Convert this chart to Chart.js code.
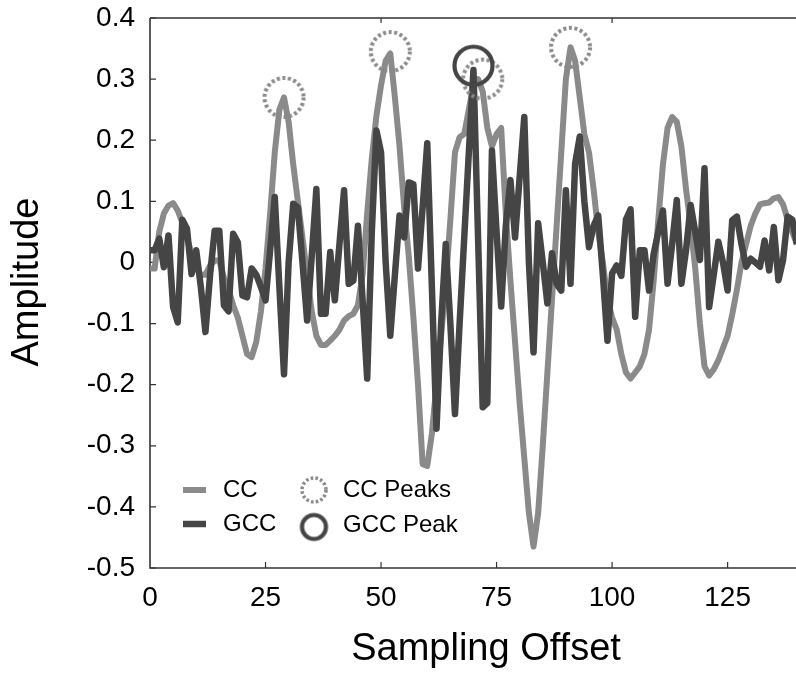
<!DOCTYPE html>
<html><head><meta charset="utf-8">
<script src="https://cdn.jsdelivr.net/npm/chart.js@4"></script>
<style>html,body{margin:0;padding:0;background:#fff}#wrap{width:796px;height:673px;position:relative}</style>
</head><body><div id="wrap"><canvas id="c" width="796" height="673"></canvas></div>
<script>
const offsets = [0,1,2,3,4,5,6,7,8,9,10,11,12,13,14,15,16,17,18,19,20,21,22,23,24,25,26,27,28,29,30,31,32,33,34,35,36,37,38,39,40,41,42,43,44,45,46,47,48,49,50,51,52,53,54,55,56,57,58,59,60,61,62,63,64,65,66,67,68,69,70,71,72,73,74,75,76,77,78,79,80,81,82,83,84,85,86,87,88,89,90,91,92,93,94,95,96,97,98,99,100,101,102,103,104,105,106,107,108,109,110,111,112,113,114,115,116,117,118,119,120,121,122,123,124,125,126,127,128,129,130,131,132,133,134,135,136,137,138,139,140];
const ccValues = [-0.01,-0.01,0.05,0.08,0.093,0.097,0.085,0.065,0.04,0.015,
 -0.01,-0.02,-0.02,-0.005,0.003,0.003,-0.025,-0.045,-0.07,-0.09,
 -0.12,-0.15,-0.155,-0.13,-0.08,-0.01,0.08,0.18,0.25,0.27,
 0.23,0.16,0.1,0.04,-0.02,-0.08,-0.12,-0.135,-0.135,-0.128,
 -0.12,-0.11,-0.095,-0.088,-0.084,-0.07,-0.02,0.08,0.17,0.24,
 0.29,0.33,0.342,0.27,0.19,0.09,0.01,-0.09,-0.2,-0.33,
 -0.333,-0.28,-0.2,-0.12,-0.035,0.07,0.18,0.205,0.21,0.25,
 0.29,0.3,0.28,0.22,0.19,0.21,0.22,0.08,-0.03,-0.13,
 -0.23,-0.32,-0.41,-0.465,-0.41,-0.3,-0.18,-0.06,0.06,0.18,
 0.3,0.352,0.33,0.27,0.21,0.18,0.12,0.05,0.0,-0.06,
 -0.09,-0.11,-0.15,-0.18,-0.19,-0.18,-0.17,-0.15,-0.11,-0.03,
 0.07,0.16,0.22,0.238,0.23,0.19,0.12,0.06,-0.01,-0.1,
 -0.17,-0.185,-0.175,-0.16,-0.14,-0.12,-0.085,-0.045,0.0,0.03,
 0.06,0.08,0.095,0.097,0.098,0.105,0.107,0.095,0.07,0.05,0.03];
const gccValues = [0.02,0.02,0.039,-0.008,0.044,-0.073,-0.098,0.07,0.055,-0.019,
 0.02,-0.04,-0.114,-0.02,0.052,0.052,-0.07,-0.08,0.047,0.033,
 -0.054,-0.057,-0.01,-0.02,-0.04,-0.062,0.02,0.107,-0.04,-0.183,
 0.0,0.096,0.09,0.0,-0.095,0.01,0.12,-0.084,-0.084,0.017,
 -0.062,0.03,0.118,-0.035,-0.03,0.06,-0.06,-0.19,0.05,0.216,
 0.18,0.0,-0.12,-0.02,0.077,0.041,0.131,0.128,-0.01,0.09,
 0.195,-0.04,-0.272,-0.1,0.03,-0.1,-0.248,-0.1,0.04,0.18,
 0.315,0.04,-0.237,-0.23,0.183,0.05,-0.072,0.06,0.135,0.041,
 0.14,0.238,0.0,-0.147,0.064,0.0,-0.067,0.015,-0.035,-0.046,
 0.118,-0.035,0.162,0.206,0.1,0.025,0.06,0.077,-0.02,-0.128,
 -0.018,-0.005,-0.022,0.07,0.087,-0.089,0.02,0.02,-0.046,0.014,
 0.05,0.085,-0.035,0.03,0.102,-0.035,0.02,0.094,0.05,0.004,
 0.154,-0.073,-0.02,0.034,0.0,-0.046,0.069,0.075,0.03,-0.007,
 0.006,0.0,-0.007,0.036,-0.013,0.058,-0.029,0.004,0.075,0.07,0.03];
const ccPeakOffsets = [29, 52, 72, 91];
const ccPeakValues = [0.27, 0.345, 0.30, 0.352];
const gccPeakOffsets = [70];
const gccPeakValues = [0.322];
const xTickValues = [0, 25, 50, 75, 100, 125];
const xTopTickValues = [50, 100];
const yTickValues = [-0.5, -0.4, -0.3, -0.2, -0.1, 0, 0.1, 0.2, 0.3, 0.4];
const yTickLabels = ['-0.5', '-0.4', '-0.3', '-0.2', '-0.1', '0', '0.1', '0.2', '0.3', '0.4'];
const legendLabels = ['CC', 'GCC', 'CC Peaks', 'GCC Peak'];
const xTitle = 'Sampling Offset';
const yTitle = 'Amplitude';

const FONT = "'Liberation Sans', Arial, sans-serif";
const TICK_SIZE = 28;
const TITLE_SIZE = 38;
const CC_COLOR = '#8a8a8a';
const GCC_COLOR = '#454545';

function makeCircle(r, lw, color, dash) {
  const s = Math.ceil(2 * r + lw + 4);
  const cv = document.createElement('canvas');
  cv.width = s; cv.height = s;
  const g = cv.getContext('2d');
  g.strokeStyle = color; g.lineWidth = lw;
  if (dash) g.setLineDash(dash);
  g.beginPath(); g.arc(s / 2, s / 2, r, 0, Math.PI * 2); g.stroke();
  return cv;
}
const ccPeakImg = makeCircle(19.5, 4, CC_COLOR, [3, 2.6]);
const gccPeakImg = makeCircle(19, 4.2, GCC_COLOR, null);
const ccLegendImg = makeCircle(12, 3.5, CC_COLOR, [2.6, 2.2]);
const gccLegendImg = makeCircle(12, 4.2, GCC_COLOR, null);

function zeroPad(s) { s.paddingTop = 0; s.paddingBottom = 0; s.paddingLeft = 0; s.paddingRight = 0; }

const framePlugin = {
  id: 'frame',
  beforeDatasetsDraw(chart) {
    const {ctx, chartArea: a, scales: {x, y}} = chart;
    ctx.save();
    ctx.strokeStyle = '#333';
    ctx.lineWidth = 1.6;
    ctx.beginPath();
    ctx.moveTo(a.left, a.top); ctx.lineTo(a.right + 5, a.top);
    ctx.moveTo(a.left, a.top); ctx.lineTo(a.left, a.bottom);
    ctx.lineTo(a.right + 5, a.bottom);
    ctx.stroke();
    ctx.lineWidth = 1.2;
    ctx.beginPath();
    yTickValues.forEach(v => {
      const py = y.getPixelForValue(v);
      ctx.moveTo(a.left, py); ctx.lineTo(a.left + 6, py);
    });
    xTickValues.forEach(v => {
      if (v === 0) return;
      const px = x.getPixelForValue(v);
      ctx.moveTo(px, a.bottom); ctx.lineTo(px, a.bottom - 6);
    });
    xTopTickValues.forEach(v => {
      const px = x.getPixelForValue(v);
      ctx.moveTo(px, a.top); ctx.lineTo(px, a.top + 5);
    });
    ctx.stroke();
    ctx.fillStyle = '#000';
    ctx.font = TITLE_SIZE + 'px ' + FONT;
    ctx.textAlign = 'center';
    ctx.textBaseline = 'middle';
    ctx.fillText(xTitle, a.left + 336, 650);
    ctx.translate(28, 282);
    ctx.rotate(-Math.PI / 2);
    ctx.fillText(yTitle, 0, 0);
    ctx.restore();
  }
};

const legendPlugin = {
  id: 'innerLegend',
  afterDraw(chart) {
    const {ctx, chartArea: a} = chart;
    ctx.save();
    const x0 = a.left + 33, row1 = a.top + 472, row2 = a.top + 506;
    ctx.lineCap = 'butt';
    ctx.lineWidth = 6;
    ctx.strokeStyle = CC_COLOR;
    ctx.beginPath(); ctx.moveTo(x0, row1); ctx.lineTo(x0 + 23, row1); ctx.stroke();
    ctx.lineWidth = 6.5;
    ctx.strokeStyle = GCC_COLOR;
    ctx.beginPath(); ctx.moveTo(x0, row2); ctx.lineTo(x0 + 23, row2); ctx.stroke();
    ctx.drawImage(ccLegendImg, x0 + 131 - ccLegendImg.width / 2, row1 - ccLegendImg.height / 2);
    ctx.drawImage(gccLegendImg, x0 + 131 - gccLegendImg.width / 2, row2 + 3 - gccLegendImg.height / 2);
    ctx.fillStyle = '#000';
    ctx.font = '24px ' + FONT;
    ctx.textBaseline = 'middle';
    ctx.textAlign = 'left';
    ctx.fillText(legendLabels[0], x0 + 40, row1);
    ctx.fillText(legendLabels[1], x0 + 40, row2);
    ctx.fillText(legendLabels[2], x0 + 160, row1);
    ctx.fillText(legendLabels[3], x0 + 160, row2 + 1);
    ctx.restore();
  }
};

const ccData = offsets.map((o, i) => ({x: o, y: ccValues[i]}));
const gccData = offsets.map((o, i) => ({x: o, y: gccValues[i]}));
const ccPeakData = ccPeakOffsets.map((o, i) => ({x: o, y: ccPeakValues[i]}));
const gccPeakData = gccPeakOffsets.map((o, i) => ({x: o, y: gccPeakValues[i]}));

new Chart(document.getElementById('c'), {
  type: 'line',
  data: {
    datasets: [
      {label: legendLabels[3], data: gccPeakData, showLine: false, pointStyle: gccPeakImg, pointRadius: 20, borderWidth: 0},
      {label: legendLabels[2], data: ccPeakData, showLine: false, pointStyle: ccPeakImg, pointRadius: 20, borderWidth: 0},
      {label: legendLabels[1], data: gccData, borderColor: GCC_COLOR, borderWidth: 6.5, pointRadius: 0, tension: 0, borderJoinStyle: 'round', borderCapStyle: 'butt'},
      {label: legendLabels[0], data: ccData, borderColor: CC_COLOR, borderWidth: 6, pointRadius: 0, tension: 0, borderJoinStyle: 'round', borderCapStyle: 'butt'}
    ]
  },
  options: {
    responsive: false,
    animation: false,
    devicePixelRatio: 1,
    layout: {autoPadding: false, padding: {top: 18, right: 0, left: 0, bottom: 0}},
    plugins: {legend: {display: false}, tooltip: {enabled: false}},
    scales: {
      x: {
        type: 'linear', min: 0, max: 139.8,
        afterBuildTicks: s => { s.ticks = xTickValues.map(v => ({value: v})); },
        afterFit: s => { s.height = 105; zeroPad(s); },
        grid: {display: false, drawTicks: false},
        border: {display: false},
        ticks: {color: '#000', font: {size: TICK_SIZE, family: FONT}, padding: 13, maxRotation: 0, autoSkip: false},
        title: {display: false}
      },
      y: {
        type: 'linear', min: -0.5, max: 0.4,
        afterBuildTicks: s => { s.ticks = yTickValues.map(v => ({value: v})); },
        afterFit: s => { s.width = 150; zeroPad(s); },
        grid: {display: false, drawTicks: false},
        border: {display: false},
        ticks: {color: '#000', font: {size: TICK_SIZE, family: FONT}, padding: 15, autoSkip: false,
          callback: (v) => yTickLabels[yTickValues.indexOf(v)]},
        title: {display: false}
      }
    }
  },
  plugins: [framePlugin, legendPlugin]
});
</script>
</body></html>
